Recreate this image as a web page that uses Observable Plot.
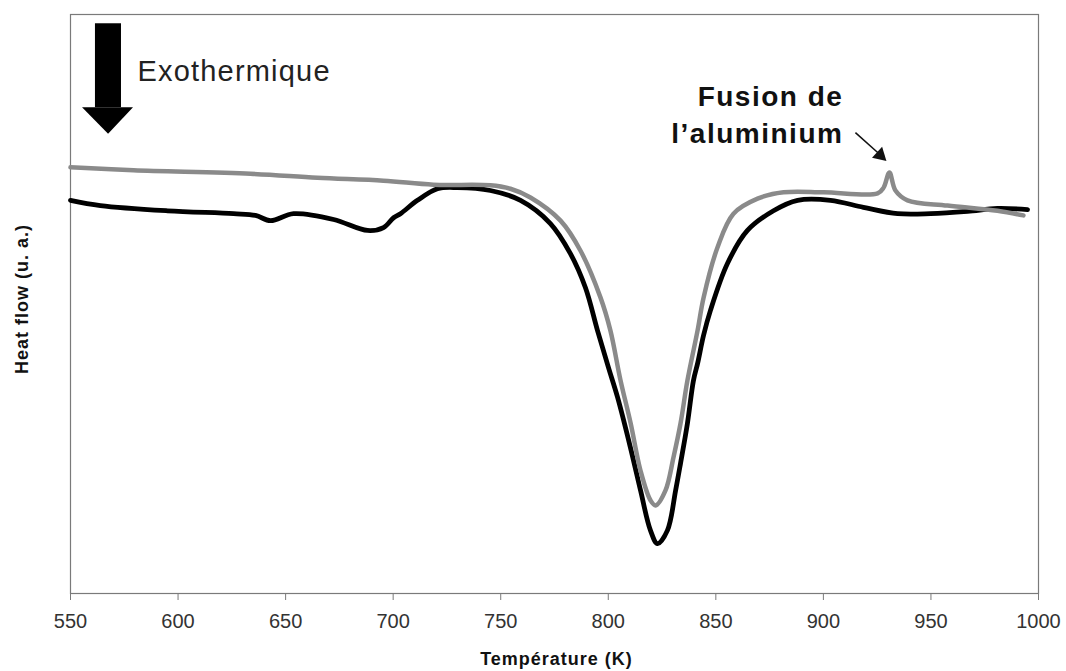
<!DOCTYPE html>
<html>
<head>
<meta charset="utf-8">
<script src="https://cdn.jsdelivr.net/npm/d3@7"></script>
<script src="https://cdn.jsdelivr.net/npm/@observablehq/plot@0.6"></script>
<style>
  body { margin: 0; background: #fff; }
  svg { display: block; }
</style>
</head>
<body>
<div id="chart"></div>
<script>
// ---- Data (heat flow in arbitrary units) ----
const tempBlack = [550, 563.9, 595.1, 625.8, 636.0, 643.0, 653.7, 672.3, 688.1, 695.5, 700.2, 703.4, 711.3, 720.6, 729.9, 745.2, 759.2, 773.1, 782.4, 789.4, 795.0, 800.1, 804.3, 810.3, 815.0, 819.6, 822.9, 827.5, 831.3, 833.6, 836.8, 839.6, 841.5, 844.3, 847.5, 855.4, 864.7, 876.8, 888.0, 903.3, 918.6, 934.5, 949.8, 967.0, 980.9, 994.9];
const flowBlack = [67.9, 67.0, 66.1, 65.6, 65.3, 64.4, 65.6, 64.6, 62.7, 63.2, 64.9, 65.6, 67.9, 69.9, 70.1, 69.6, 67.9, 63.9, 58.7, 52.8, 45.4, 39.0, 33.9, 25.2, 17.8, 10.9, 8.6, 10.9, 17.8, 22.5, 29.4, 36.8, 39.7, 44.6, 48.9, 57.0, 62.7, 66.1, 67.9, 67.9, 66.7, 65.6, 65.6, 66.0, 66.5, 66.3];

const tempGray = [550, 579.3, 633.7, 664.8, 695.5, 718.7, 745.2, 754.5, 763.8, 777.8, 787.1, 796.4, 801.0, 805.7, 810.4, 815.0, 819.6, 822.0, 826.6, 830.3, 833.6, 836.8, 841.5, 844.3, 850.8, 858.2, 869.4, 881.5, 900.1, 925.2, 928.0, 930.7, 933.5, 939.1, 957.7, 980.9, 993.0];
const flowGray = [73.6, 73.1, 72.5, 71.8, 71.3, 70.6, 70.5, 69.9, 68.4, 64.4, 59.2, 51.1, 45.4, 36.8, 29.4, 21.2, 16.1, 15.2, 17.8, 23.5, 29.4, 36.8, 45.4, 51.1, 59.8, 65.6, 68.2, 69.3, 69.3, 69.1, 70.1, 72.7, 69.6, 67.9, 67.0, 66.1, 65.3];

const xTicks = [550, 600, 650, 700, 750, 800, 850, 900, 950, 1000];
const xLabel = "Température (K)";
const yLabel = "Heat flow (u. a.)";

// annotations (placed in data coordinates)
const exoArrowShaft = [{t1: 561.6, t2: 573.7, h1: 83.9, h2: 98.4}];
const exoArrowHead = [
  {t: 555.6, base: 83.9, tip: 83.9},
  {t: 567.7, base: 83.9, tip: 79.3},
  {t: 579.3, base: 83.9, tip: 83.9}
];
const exoText = [{t: 581.1, h: 90.2, label: "Exothermique"}];
const fusionText = [
  {t: 909.3, h: 85.7, label: "Fusion de"},
  {t: 909.3, h: 79.4, label: "l\u2019aluminium"}
];
const fusionArrowLine = [{t1: 914.9, h1: 79.6, t2: 926.0, h2: 75.9}];
const fusionArrowHead = [{t: 926.4, h: 75.7}];

const black = tempBlack.map((t, i) => ({t, h: flowBlack[i]}));
const gray = tempGray.map((t, i) => ({t, h: flowGray[i]}));

const chart = Plot.plot({
  width: 1066,
  height: 671,
  marginLeft: 70,
  marginRight: 28,
  marginTop: 14,
  marginBottom: 78,
  style: {fontFamily: "'Liberation Sans', Arial, sans-serif", background: "#fff"},
  x: {domain: [550, 1000]},
  y: {domain: [0, 100], axis: null},
  marks: [
    Plot.frame({stroke: "#7a7a7a", strokeWidth: 1.2}),
    Plot.axisX(xTicks, {tickSize: 7, tickPadding: 13, fontSize: 20, stroke: "#7a7a7a", fill: "#333", label: null, tickFormat: d => String(d)}),
    Plot.line(black, {x: "t", y: "h", stroke: "#000", strokeWidth: 4.8, curve: "catmull-rom"}),
    Plot.line(gray, {x: "t", y: "h", stroke: "#8a8a8a", strokeWidth: 4.5, curve: "catmull-rom"}),
    Plot.rect(exoArrowShaft, {x1: "t1", x2: "t2", y1: "h1", y2: "h2", fill: "#000"}),
    Plot.areaY(exoArrowHead, {x: "t", y1: "base", y2: "tip", fill: "#000", curve: "linear"}),
    Plot.text(exoText, {x: "t", y: "h", text: "label", textAnchor: "start", fontSize: 29, fill: "#222"}),
    Plot.text(fusionText, {x: "t", y: "h", text: "label", textAnchor: "end", fontSize: 28, fontWeight: "bold", fill: "#111"}),
    Plot.link(fusionArrowLine, {x1: "t1", y1: "h1", x2: "t2", y2: "h2", stroke: "#111", strokeWidth: 1.5}),
    Plot.dot(fusionArrowHead, {x: "t", y: "h", symbol: "triangle", r: 5.5, fill: "#111", rotate: 133}),
    Plot.text([yLabel], {frameAnchor: "left", textAnchor: "middle", lineAnchor: "middle", dx: -48, dy: -5, rotate: -90, fontSize: 18, fontWeight: "bold", fill: "#111"}),
    Plot.text([xLabel], {frameAnchor: "bottom", textAnchor: "middle", lineAnchor: "middle", dx: 2, dy: 66, fontSize: 18, fontWeight: "bold", fill: "#111"})
  ]
});

document.getElementById("chart").appendChild(chart);

// small letter-spacing tweaks to match the stretched reference glyphs
d3.select(chart).selectAll("text").each(function() {
  const s = this.textContent;
  if (s === "Exothermique") this.style.letterSpacing = "1.2px";
  if (s === "Fusion de" || s === "l\u2019aluminium") this.style.letterSpacing = "1.5px";
  if (s === xLabel || s === yLabel) this.style.letterSpacing = "1px";
});
</script>
</body>
</html>
